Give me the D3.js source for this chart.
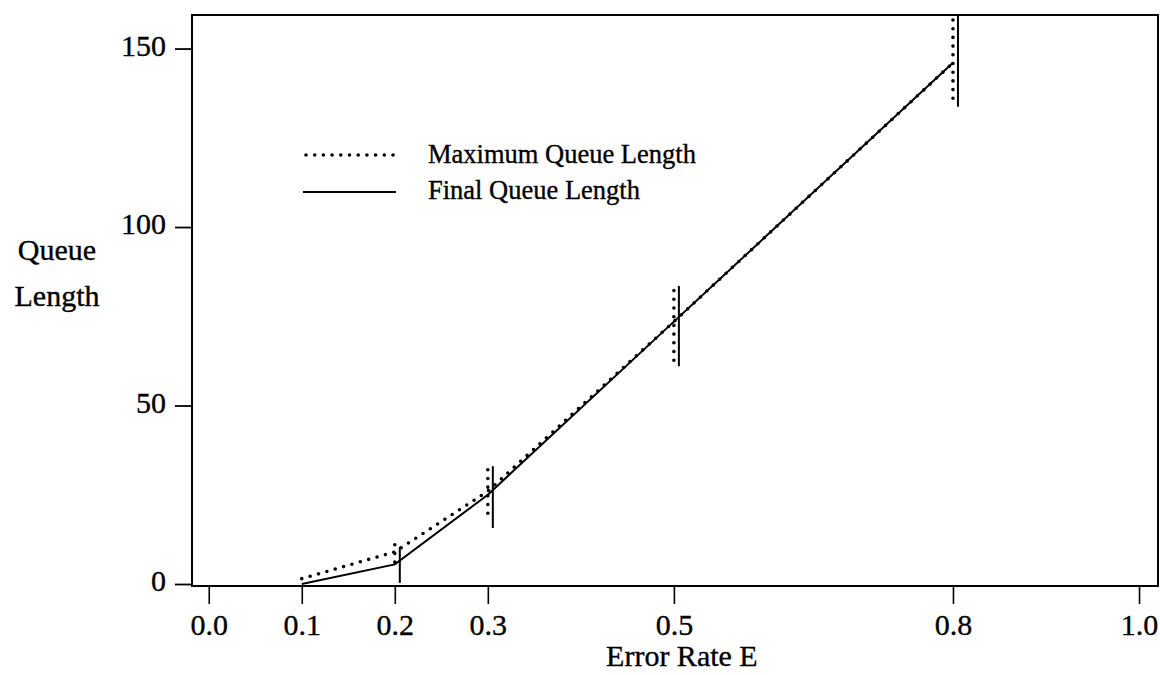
<!DOCTYPE html>
<html>
<head>
<meta charset="utf-8">
<script src="https://cdn.jsdelivr.net/npm/d3@7"></script>
<style>
  html, body { margin: 0; padding: 0; background: #fff; }
  svg { display: block; }
  text { font-family: "Liberation Serif", "Times New Roman", "DejaVu Serif", serif; fill: #000; stroke: #000; stroke-width: 0.35px; }
</style>
</head>
<body>
<svg id="chart" width="1160" height="675"></svg>
<script>
// ---- data ----
const errorRates = [0.1, 0.2, 0.3, 0.5, 0.8];
const maxQueue   = [1.5, 9, 26, 73.5, 146];
const finalQueue = [0, 5.5, 25, 73.5, 146];

const barRates      = [0.2, 0.3, 0.5, 0.8];
const maxBarLow     = [4.8, 17.7, 61.8, 134.2];
const maxBarHigh    = [11, 32, 82.2, 158];
const finalBarLow   = [0.3, 15.7, 61, 133.7];
const finalBarHigh  = [10.4, 33, 83.5, 165];

const xTicks = [0.0, 0.1, 0.2, 0.3, 0.5, 0.8, 1.0];
const yTicks = [0, 50, 100, 150];

const seriesNames = ["Maximum Queue Length", "Final Queue Length"];

// ---- layout ----
const svg = d3.select("#chart");
const L = 192, R = 1158, T = 15, B = 586;
const FONT = '"Liberation Serif", "Times New Roman", serif';

const x = d3.scaleLinear().domain([-0.018, 1.0204]).range([L, R]);
const y = d3.scaleLinear().domain([-0.56, 159.4]).range([B, T]);

svg.append("defs").append("clipPath").attr("id", "plotclip")
  .append("rect").attr("x", L).attr("y", T).attr("width", R - L).attr("height", B - T);

// axes
const xAxis = d3.axisBottom(x).tickValues(xTicks).tickFormat(d3.format(".1f"))
  .tickSize(18).tickPadding(10);
const gx = svg.append("g").attr("transform", `translate(0,${B})`).call(xAxis);
gx.select(".domain").remove();
gx.selectAll(".tick line").attr("stroke", "#000").attr("stroke-width", 1.6);
gx.selectAll(".tick text").attr("font-size", 30).style("font-family", FONT);

const yAxis = d3.axisLeft(y).tickValues(yTicks).tickFormat(d3.format("d"))
  .tickSize(17).tickPadding(9);
const gy = svg.append("g").attr("transform", `translate(${L},0)`).call(yAxis);
gy.select(".domain").remove();
gy.selectAll(".tick line").attr("stroke", "#000").attr("stroke-width", 1.8);
gy.selectAll(".tick text").attr("font-size", 30).attr("dy", "0.22em").style("font-family", FONT);

// frame
svg.append("rect").attr("x", L).attr("y", T).attr("width", R - L).attr("height", B - T)
  .attr("fill", "none").attr("stroke", "#000").attr("stroke-width", 2);

// axis titles
svg.append("text").attr("x", (x(0) + x(1)) / 2 + 8).attr("y", 666)
  .attr("text-anchor", "middle").attr("font-size", 30).text("Error Rate E");
svg.append("text").attr("x", 57).attr("y", 260)
  .attr("text-anchor", "middle").attr("font-size", 30).text("Queue");
svg.append("text").attr("x", 57).attr("y", 306)
  .attr("text-anchor", "middle").attr("font-size", 30).text("Length");

// data marks
const plot = svg.append("g").attr("clip-path", "url(#plotclip)");
const line = d3.line().x(d => x(d[0])).y(d => y(d[1]));

const dotStyle = sel => sel.attr("fill", "none").attr("stroke", "#000")
  .attr("stroke-width", 3.6).attr("stroke-linecap", "round").attr("stroke-dasharray", "0 8.7");
const solidStyle = sel => sel.attr("fill", "none").attr("stroke", "#000").attr("stroke-width", 2);

plot.append("path").datum(errorRates.map((e, i) => [e, maxQueue[i]]))
  .attr("d", line).call(dotStyle);
plot.append("path").datum(errorRates.map((e, i) => [e, finalQueue[i]]))
  .attr("d", line).call(solidStyle);

// error bars: max (dotted) at x, final (solid) slightly to the right
plot.selectAll(".maxbar").data(barRates).join("line").attr("class", "maxbar")
  .attr("x1", d => x(d)).attr("x2", d => x(d))
  .attr("y1", (d, i) => y(maxBarHigh[i])).attr("y2", (d, i) => y(maxBarLow[i]))
  .call(dotStyle);
plot.selectAll(".finalbar").data(barRates).join("line").attr("class", "finalbar")
  .attr("x1", d => x(d) + 5).attr("x2", d => x(d) + 5)
  .attr("y1", (d, i) => y(finalBarHigh[i])).attr("y2", (d, i) => y(finalBarLow[i]))
  .call(solidStyle);

// legend
const lg = svg.append("g");
lg.append("line").attr("x1", 306).attr("x2", 394).attr("y1", 155).attr("y2", 155).call(dotStyle);
lg.append("line").attr("x1", 303).attr("x2", 396).attr("y1", 192).attr("y2", 192).call(solidStyle);
lg.append("text").attr("x", 428).attr("y", 163).attr("font-size", 26.5).text(seriesNames[0]);
lg.append("text").attr("x", 428).attr("y", 199).attr("font-size", 26.5).text(seriesNames[1]);
</script>
</body>
</html>
